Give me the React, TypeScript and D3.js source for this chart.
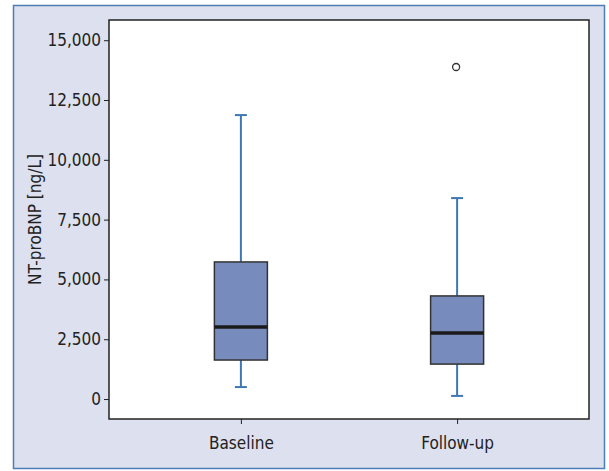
import React, { useEffect, useRef } from "react";
import * as d3 from "d3";

// box plot summaries (ng/L)
const groups = ["Baseline", "Follow-up"];
const whiskerLow = [500, 130];
const quartile1 = [1630, 1460];
const medians = [3010, 2760];
const quartile3 = [5730, 4310];
const whiskerHigh = [11870, 8400];
const outliers = [[], [13880]];
const yTicks = [0, 2500, 5000, 7500, 10000, 12500, 15000];

const W = 609, H = 471;
const FONT = "'Liberation Sans Narrow', 'DejaVu Sans Condensed', 'Liberation Sans', sans-serif";

export default function App() {
    const ref = useRef<SVGSVGElement>(null);

    useEffect(() => {
        const svg = d3.select(ref.current);
        svg.selectAll("*").remove();

        const margin = { top: 20, right: 20, bottom: 52, left: 109 };
        const width = 589 - margin.left;
        const height = 419 - margin.top;

        // outer panel
        svg.append("rect")
            .attr("x", 13.5).attr("y", 5.5)
            .attr("width", 591).attr("height", 463)
            .attr("fill", "#dde1ef")
            .attr("stroke", "#4f7db5")
            .attr("stroke-width", 1.5);

        const g = svg.append("g")
            .attr("transform", "translate(" + margin.left + "," + margin.top + ")");

        g.append("rect")
            .attr("width", width).attr("height", height)
            .attr("fill", "#fff")
            .attr("stroke", "#222")
            .attr("stroke-width", 1.5);

        const x = d3.scalePoint().domain(groups).range([0, width]).padding(0.61);
        const y = d3.scaleLinear().domain([-835, 15845]).range([height, 0]);

        const yAxis = g.append("g")
            .call(d3.axisLeft(y).tickValues(yTicks).tickSize(5).tickPadding(3)
                .tickFormat(d3.format(",")));
        yAxis.select(".domain").remove();
        yAxis.selectAll(".tick line").attr("stroke", "#222");
        yAxis.selectAll("text")
            .attr("font-family", FONT).attr("font-size", 17).attr("fill", "#222");

        const xAxis = g.append("g")
            .attr("transform", "translate(0," + height + ")")
            .call(d3.axisBottom(x).tickSize(5).tickPadding(13));
        xAxis.select(".domain").remove();
        xAxis.selectAll(".tick line").attr("stroke", "#222");
        xAxis.selectAll("text")
            .attr("font-family", FONT).attr("font-size", 17).attr("fill", "#222");

        g.append("text")
            .attr("transform", "rotate(-90)")
            .attr("x", -height / 2)
            .attr("y", -68)
            .attr("text-anchor", "middle")
            .attr("font-family", FONT).attr("font-size", 17).attr("fill", "#222")
            .text("NT-proBNP [ng/L]");

        const boxW = 53, capW = 12;
        groups.forEach((name, i) => {
            const cx = x(name)!;
            const box = g.append("g");
            box.append("line")
                .attr("x1", cx).attr("x2", cx)
                .attr("y1", y(whiskerHigh[i])).attr("y2", y(quartile3[i]))
                .attr("stroke", "#3f77b3").attr("stroke-width", 2);
            box.append("line")
                .attr("x1", cx).attr("x2", cx)
                .attr("y1", y(quartile1[i])).attr("y2", y(whiskerLow[i]))
                .attr("stroke", "#3f77b3").attr("stroke-width", 2);
            [whiskerHigh[i], whiskerLow[i]].forEach(v => {
                box.append("line")
                    .attr("x1", cx - capW / 2).attr("x2", cx + capW / 2)
                    .attr("y1", y(v)).attr("y2", y(v))
                    .attr("stroke", "#3f77b3").attr("stroke-width", 2);
            });
            box.append("rect")
                .attr("x", cx - boxW / 2).attr("width", boxW)
                .attr("y", y(quartile3[i]))
                .attr("height", y(quartile1[i]) - y(quartile3[i]))
                .attr("fill", "#788bbd")
                .attr("stroke", "#333").attr("stroke-width", 1.5);
            box.append("line")
                .attr("x1", cx - boxW / 2).attr("x2", cx + boxW / 2)
                .attr("y1", y(medians[i])).attr("y2", y(medians[i]))
                .attr("stroke", "#1a1a1a").attr("stroke-width", 3.5);
            box.selectAll("circle.out")
                .data(outliers[i])
                .enter().append("circle")
                .attr("cx", cx - 1).attr("cy", d => y(d))
                .attr("r", 3.5)
                .attr("fill", "#fff")
                .attr("stroke", "#333").attr("stroke-width", 1.3);
        });
    }, []);

    return <svg ref={ref} width={W} height={H}
                style={{ position: "absolute", left: 0, top: 0 }}></svg>;
}
